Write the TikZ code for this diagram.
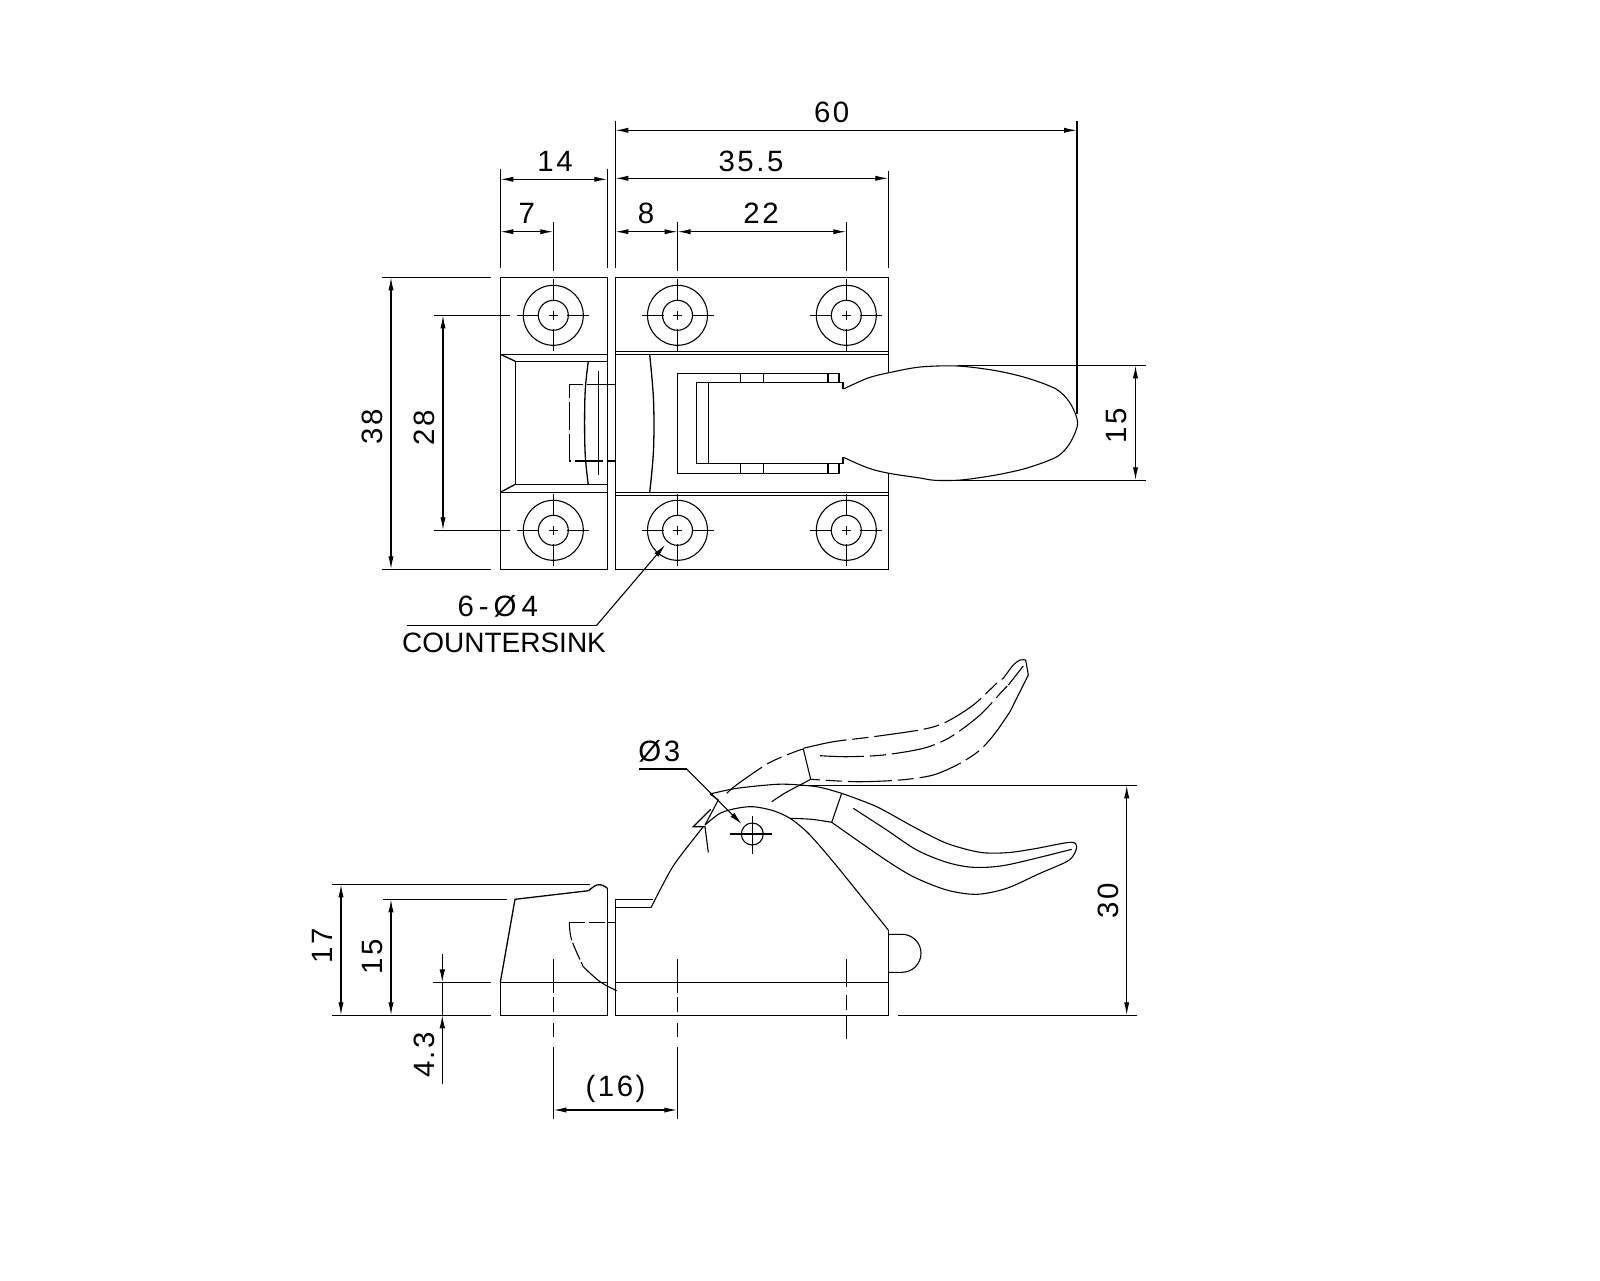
\documentclass[tikz,border=0pt]{standalone}
\usepackage{fontspec}
\setmainfont{Liberation Sans}
\newfontfamily\numfont[LetterSpace=8.5]{Liberation Sans}
\newfontfamily\widefont[LetterSpace=17]{Liberation Sans}
\usetikzlibrary{arrows.meta}
\tikzset{
  main/.style={line width=0.65pt},
  fine/.style={line width=0.55pt},
  hidden/.style={line width=0.55pt, dash pattern=on 22pt off 3pt on 8pt off 3pt},
  dim/.style={line width=0.6pt, {Latex[length=6.5pt,width=2.6pt]}-{Latex[length=6.5pt,width=2.6pt]}},
  lead/.style={line width=0.55pt, -{Latex[length=6.5pt,width=2.8pt]}},
  ext/.style={line width=0.6pt},
  lab/.style={font=\numfont\fontsize{14.7pt}{16pt}\selectfont, inner sep=0pt},
  hole/.pic={
    \draw[fine] (0,0) circle[radius=30];
    \draw[fine] (0,0) circle[radius=15];
    \draw[fine] (-36,0) -- (-14,0); \draw[fine] (14,0) -- (36,0);
    \draw[fine] (0,-36) -- (0,-14); \draw[fine] (0,14) -- (0,36);
    \draw[fine] (-4.5,0) -- (4.5,0); \draw[fine] (0,-4.5) -- (0,4.5);
  }
}
\begin{document}
\begin{tikzpicture}[x=0.5pt, y=-0.5pt]
  \useasboundingbox (0,0) rectangle (1600,1280);
  %
  % top view, left block
  \draw[main] (500.3,277.3) rectangle (607.3,569.3);
  \draw[main] (500.3,354.3) -- (607.3,354.3);
  \draw[main] (500.3,492.3) -- (607.3,492.3);
  \draw[main] (607.3,361.3) -- (515.3,361.3) -- (515.3,484.3) -- (607.3,484.3);
  \draw[main] (500.3,354.3) -- (515.3,361.3);
  \draw[main] (500.3,492.3) -- (515.3,484.3);
  \draw[main] plot[smooth, tension=0.6] coordinates {(588.3,361.5) (585,395) (585,450) (588.3,485)};
  \draw[main] (598.7,371) -- (598.7,475);
  \draw[main, dash pattern=on 14pt off 2pt] (615.3,384.3) -- (569.3,384.3) -- (569.3,461) -- (615.3,461);
  %
  % top view, right block
  \draw[main] (888.3,372) -- (888.3,277.3) -- (615.3,277.3) -- (615.3,569.3) -- (888.3,569.3) -- (888.3,473);
  \draw[main] (615.3,351.3) -- (888.3,351.3);
  \draw[main] (615.3,354.3) -- (888.3,354.3);
  \draw[main] (615.3,492.3) -- (888.3,492.3);
  \draw[main] (615.3,495.3) -- (888.3,495.3);
  \draw[main] plot[smooth, tension=0.6] coordinates {(649.7,355) (653.5,400) (653.5,450) (649.7,492.3)};
  %
  \draw[main] (839,382.3) -- (839,373.3) -- (677.6,373.3) -- (677.6,473.3) -- (839,473.3) -- (839,463.3);
  \draw[main] (843,389) -- (843,382.3) -- (696.6,382.3) -- (696.6,463.3) -- (843,463.3) -- (843,457.3);
  \draw[main] (708.6,382.3) -- (708.6,463.3);
  \draw[main] (740.7,373.3) -- (740.7,382.3);
  \draw[main] (763.8,373.3) -- (763.8,382.3);
  \draw[main] (827.9,373.3) -- (827.9,382.3);
  \draw[main] (740.7,463.3) -- (740.7,473.3);
  \draw[main] (763.8,463.3) -- (763.8,473.3);
  \draw[main] (827.9,463.3) -- (827.9,473.3);
  %
  \draw[fine] plot[smooth, tension=0.5] coordinates {(843.4,389) (868,378) (889,372.7) (920,367) (958,366) (996,370.7) (1027,378) (1056,389) (1070,403) (1077.6,423) (1070,443) (1057,456.7) (1027,468) (996,475) (961,480) (935,480.3) (920,478) (889,473.3) (868,468) (843.4,457.3)};
  %
  % holes
  \draw (553.3,315.3) pic{hole};
  \draw (553.3,530.3) pic{hole};
  \draw (677.5,315.3) pic{hole};
  \draw (677.5,530.3) pic{hole};
  \draw (846.3,315.3) pic{hole};
  \draw (846.3,530.3) pic{hole};
  %
  % top view, extension lines
  \draw[ext] (500.3,169.3) -- (500.3,268.3);
  \draw[ext] (607.3,169.3) -- (607.3,268.3);
  \draw[ext] (615.3,121) -- (615.3,268.3);
  \draw[ext] (888.3,171) -- (888.3,268.3);
  \draw[ext] (1077,121) -- (1077,414);
  \draw[ext] (553.3,222.3) -- (553.3,270.7);
  \draw[ext] (677.5,222.3) -- (677.5,270.7);
  \draw[ext] (846.3,222.3) -- (846.3,270.7);
  \draw[ext] (381.7,277.3) -- (491,277.3);
  \draw[ext] (381.7,569.3) -- (491,569.3);
  \draw[ext] (434,315.3) -- (510,315.3);
  \draw[ext] (434,530.3) -- (510,530.3);
  \draw[ext] (958,365.3) -- (1146,365.3);
  \draw[ext] (935,480.3) -- (1146,480.3);
  %
  % top view, dimensions
  \draw[dim] (615.3,130.3) -- (1077,130.3);
  \draw[dim] (615.3,178.3) -- (888.3,178.3);
  \draw[dim] (500.3,179.3) -- (607.3,179.3);
  \draw[dim] (500.3,231.7) -- (553.3,231.7);
  \draw[dim] (615.3,231.7) -- (677.5,231.7);
  \draw[dim] (677.5,231.7) -- (846.3,231.7);
  \draw[dim] (391,277.3) -- (391,569.3);
  \draw[dim] (443,315.3) -- (443,530.3);
  \draw[dim] (1135.5,365.3) -- (1135.5,480.3);
  %
  \draw(831.6,112.5) node[lab](labsixty){60};
  \draw(751,161) node[lab](labthirtyfive){35.5};
  \draw(555,161) node[lab](labfourteen){14};
  \draw(526.7,213) node[lab](labseven){7};
  \draw(646,213) node[lab](labeight){8};
  \draw(761,213) node[lab](labtwentytwo){22};
  \draw(372.3,426.7) node[lab, rotate=90](labthirtyeight){38};
  \draw(424.3,428) node[lab, rotate=90](labtwentyeight){28};
  \draw(1116.6,426) node[lab, rotate=90](labfifteen){15};
  %
  % countersink callout
  \draw[ext] (406.7,625.3) -- (596.7,625.3);
  \draw[lead] (596.7,625.3) -- (665,545);
  \draw(497.7,606.7) node[lab, font=\widefont\fontsize{14.7pt}{16pt}\selectfont](labholes){6-Ø4};
  \draw(504,642.7) node[lab, font=\rmfamily\fontsize{14pt}{16pt}\selectfont](labsink){COUNTERSINK};
  %
  % side view, left block
  \draw[main] (500.3,982.3) rectangle (607.3,1015.3);
  \draw[main] (500.3,982.3) -- (515,899.3) -- (588.3,890.7);
  \draw[main] plot[smooth, tension=0.6] coordinates {(588.3,890.7) (596.7,885) (603,885.5) (607.3,888.3)};
  \draw[main] (607.3,888.3) -- (607.3,982.3);
  \draw[main, dash pattern=on 8pt off 2pt] (569.3,922.3) -- (607.3,922.3);
  \draw[main] (607.3,922.3) -- (615.3,922.3);
  \draw[fine, dash pattern=on 9pt off 1.5pt] plot[smooth, tension=0.6] coordinates {(569.3,922.3) (571.7,940) (583.3,966.7)};
  \draw[fine] plot[smooth, tension=0.6] coordinates {(583.3,966.7) (600,981.7) (616.7,990.7)};
  %
  % side view, right block
  \draw[main] (888.3,982.3) -- (615.3,982.3);
  \draw[main] (615.3,899.3) -- (615.3,1015.3) -- (888.3,1015.3) -- (888.3,930);
  \draw[main] (615.3,899.3) -- (653.3,899.3);
  \draw[main] (615.3,907.7) -- (651,907.7);
  \draw[fine] (888.3,934.3) -- (902,934.3) arc[start angle=-90, end angle=90, radius=19] -- (888.3,972.3);
  %
  % body outline and pivot
  \draw[fine] plot[smooth, tension=0.5] coordinates {(651,907.7) (660,890) (675,863.3) (703.3,826.7)};
  \draw[fine] plot[smooth, tension=0.5] coordinates {(705,825) (720,813.3) (736.7,808.3) (753.3,806.7) (773.3,810.7) (790,818.3) (806.7,831.7) (823.3,850) (840,870)};
  \draw[fine] (840,870) -- (888.3,930);
  \draw[fine] (752.3,834) circle[radius=11];
  \draw[fine] (730,834) -- (771.7,834);
  \draw[fine] (752.3,816) -- (752.3,854.3);
  %
  % notch
  \draw[fine] (710.7,809.3) -- (693.3,826.7) -- (705,826.7) -- (708.3,852.3);
  \draw[fine] (710,794) -- (718.3,800) -- (705,825);
  %
  % link
  \draw[fine] plot[smooth, tension=0.5] coordinates {(710,794) (736.7,788.3) (776.7,784.3) (800,785) (820,787.3) (841.7,793.3)};
  \draw[fine] (841.7,793.3) -- (831.7,822.3);
  \draw[fine] plot[smooth, tension=0.5] coordinates {(790,818.3) (811.7,819.3) (831.7,822.3)};
  \draw[fine] plot[smooth, tension=0.5] coordinates {(771.7,801.7) (785,793) (800,785)};
  \draw[fine] (810.7,779.3) -- (800,785);
  \draw[fine] (803.3,749) -- (810.7,779.3);
  %
  % lower handle
  \draw[fine] plot[smooth, tension=0.5] coordinates {(841.7,793.3) (876.7,806.7) (913.3,826.7) (946.7,843.3) (980,852.3) (1006.7,852.7) (1033.3,849) (1070,842.3) (1076.7,846.7) (1069.3,860) (1040,873.3) (1006.7,888.3) (976.7,894.3) (946.7,890) (913.3,876.7) (883.3,858.3) (831.7,822.3)};
  \draw[fine] plot[smooth, tension=0.5] coordinates {(853.3,808.3) (886.7,830) (916.7,850) (946.7,862.3) (973.3,867.3) (1006.7,865) (1071.7,849.3)};
  %
  % upper handle
  \draw[hidden] plot[smooth, tension=0.5] coordinates {(726.7,793.3) (737.3,784.3) (768.3,763.3) (795,751.7) (803.3,749)};
  \draw[hidden] plot[smooth, tension=0.5] coordinates {(803.3,748.3) (833.3,741.7) (873.3,736.7) (923.3,729.3) (946.7,721.7) (973.3,705) (996.7,683.3) (1003.3,678.3)};
  \draw[fine] plot[smooth, tension=0.5] coordinates {(1003.3,678.3) (1013.3,665) (1020,660) (1025.7,660)};
  \draw[fine] (1025.7,660) -- (1028.3,675) -- (1010,711.7);
  \draw[hidden] plot[smooth, tension=0.5] coordinates {(1010,711.7) (995,733.3) (980,750) (960,763.3) (933.3,775) (900,780) (856.7,781.7) (810.7,779.3)};
  \draw[hidden] plot[smooth, tension=0.5] coordinates {(820,755.7) (846.7,756.7) (883.3,755) (923.3,748.3) (950,737.3) (980,715) (1003.3,690) (1008.3,685)};
  \draw[fine] (1008.3,685) -- (1023.3,666);
  %
  % side view, extension lines
  \draw[ext] (332.3,884.3) -- (590,884.3);
  \draw[ext] (382.7,899.3) -- (507.3,899.3);
  \draw[ext] (433,982.3) -- (491,982.3);
  \draw[ext] (332.3,1015.3) -- (491,1015.3);
  \draw[ext] (800,785.3) -- (1136.7,785.3);
  \draw[ext] (898.3,1015.3) -- (1136.7,1015.3);
  %
  % centre lines
  \draw[fine] (553.3,959.3) -- (553.3,993);
  \draw[fine] (553.3,997) -- (553.3,1012);
  \draw[fine] (553.3,1023) -- (553.3,1037);
  \draw[fine] (553.3,1047) -- (553.3,1119.3);
  \draw[fine] (677.3,959.3) -- (677.3,993);
  \draw[fine] (677.3,997) -- (677.3,1012);
  \draw[fine] (677.3,1023) -- (677.3,1037);
  \draw[fine] (677.3,1047) -- (677.3,1119.3);
  \draw[fine] (846.3,959.3) -- (846.3,987);
  \draw[fine] (846.3,995) -- (846.3,1010);
  \draw[fine] (846.3,1015) -- (846.3,1039);
  %
  % side view, dimensions
  \draw[dim] (341,884.3) -- (341,1015.3);
  \draw[dim] (391,899.3) -- (391,1015.3);
  \draw[dim] (553.3,1110) -- (677.3,1110);
  \draw[dim] (1126.7,785.3) -- (1126.7,1015.3);
  \draw[lead] (442.3,954) -- (442.3,982.3);
  \draw[ext] (442.3,982.3) -- (442.3,1015.3);
  \draw[lead] (442.3,1084) -- (442.3,1015.3);
  %
  \draw(322,946) node[lab, rotate=90](labseventeen){17};
  \draw(372.7,956.7) node[lab, rotate=90](labfifteenb){15};
  \draw(424,1055) node[lab, rotate=90](labfourthree){4.3};
  \draw(615.5,1088.5) node[lab](labsixteen){(16)};
  \draw(1108.3,900.7) node[lab, rotate=90](labthirty){30};
  %
  % pivot callout
  \draw[ext] (639,769) -- (686.7,769);
  \draw[lead] (686.7,769) -- (741.7,824);
  \draw(659.3,751) node[lab](labpivot){Ø3};
\end{tikzpicture}
\end{document}
